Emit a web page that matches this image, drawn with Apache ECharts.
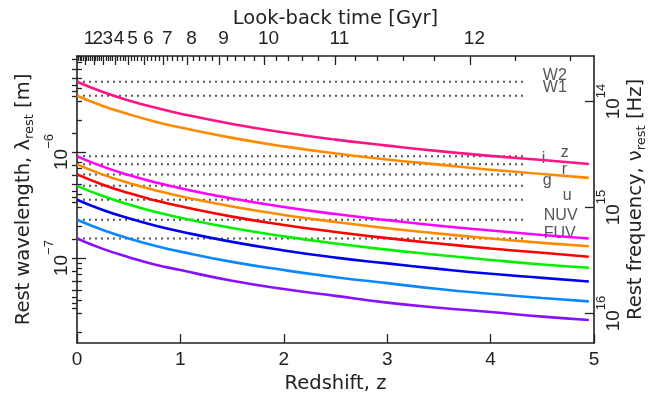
<!DOCTYPE html>
<html><head><meta charset="utf-8">
<script src="https://cdn.jsdelivr.net/npm/echarts@6/dist/echarts.min.js"></script>
<style>html,body{margin:0;padding:0;background:#fff}#c{width:661px;height:398px}</style>
</head><body><div id="c"></div>
<script>
// ---- data (wavelengths in micrometres) ----
const redshift = [0, 0.25, 0.5, 0.75, 1, 1.5, 2, 2.5, 3, 3.5, 4, 4.5, 4.95];
const bandNames = ['W2', 'W1', 'z', 'i', 'r', 'g', 'u', 'NUV', 'FUV'];
const bandWavelengthUm = [4.6, 3.4, 0.91, 0.765, 0.615, 0.48, 0.355, 0.23, 0.153];
const curveW2  = [4.60, 3.68, 3.07, 2.63, 2.30, 1.84, 1.53, 1.31, 1.15, 1.02, 0.92, 0.84, 0.77];
const curveW1  = [3.40, 2.72, 2.27, 1.94, 1.70, 1.36, 1.13, 0.97, 0.85, 0.76, 0.68, 0.62, 0.57];
const curveZ   = [0.910, 0.728, 0.607, 0.520, 0.455, 0.364, 0.303, 0.260, 0.228, 0.202, 0.182, 0.165, 0.153];
const curveI   = [0.765, 0.612, 0.510, 0.437, 0.383, 0.306, 0.255, 0.219, 0.191, 0.170, 0.153, 0.139, 0.129];
const curveR   = [0.615, 0.492, 0.410, 0.351, 0.308, 0.246, 0.205, 0.176, 0.154, 0.137, 0.123, 0.112, 0.103];
const curveG   = [0.480, 0.384, 0.320, 0.274, 0.240, 0.192, 0.160, 0.137, 0.120, 0.107, 0.096, 0.087, 0.081];
const curveU   = [0.355, 0.284, 0.237, 0.203, 0.178, 0.142, 0.118, 0.101, 0.089, 0.079, 0.071, 0.065, 0.060];
const curveNUV = [0.230, 0.184, 0.153, 0.131, 0.115, 0.092, 0.077, 0.066, 0.058, 0.051, 0.046, 0.042, 0.039];
const curveFUV = [0.153, 0.122, 0.102, 0.087, 0.077, 0.061, 0.051, 0.044, 0.038, 0.034, 0.031, 0.028, 0.026];
const bandLineEndZ = 4.35;
const xTickLabels = [0, 1, 2, 3, 4, 5];
const lookbackLabels = [1, 2, 3, 4, 5, 6, 7, 8, 9, 10, 11, 12];
const wavelengthMajor = [1e-7, 1e-6];
const frequencyMajor = [1e14, 1e15, 1e16];

// ---- styling ----
const curves = [curveW2, curveW1, curveZ, curveI, curveR, curveG, curveU, curveNUV, curveFUV];
const curveColors = ['#ff1485', '#ff8a00', '#ff00ff', '#ff8a00', '#ff0000', '#00f000', '#0000f0', '#0a88ff', '#8a10ff'];
const labelOffsets = [[16,-6],[16,-8],[34,-4],[15,-6],[35,-5],[16,-5],[36,-4],[17,-4],[17,-5]];
const TXT = '#222', AX = '#222';
const numFont = 'Liberation Sans', titleFont = 'DejaVu Sans';
const yMin = 1.58e-8, yMax = 8.05e-6;
const C = 2.998e8;

// ---- axis scale helpers ----
const H0 = 71, Om = 0.27, OL = 0.73;
function ageGyr(z) {
  const tH = 977.8 / H0;
  return 2 * tH / (3 * Math.sqrt(OL)) * Math.asinh(Math.sqrt(OL / Om) * Math.pow(1 + z, -1.5));
}
function lookback(z) { return ageGyr(0) - ageGyr(z); }
function zOfLookback(t) {
  let lo = 0, hi = 50;
  for (let k = 0; k < 80; k++) { const m = (lo + hi) / 2; if (lookback(m) < t) lo = m; else hi = m; }
  return (lo + hi) / 2;
}
const topMajorZ = lookbackLabels.map(zOfLookback);
const topOddZ = topMajorZ.filter((z, i) => i % 2 === 0);
const topEvenZ = topMajorZ.filter((z, i) => i % 2 === 1);
const topMinorZ = [];
for (let k = 1; k < 70; k++) {
  if (k % 5 === 0) continue;
  const z = zOfLookback(k * 0.2);
  if (z < 5) topMinorZ.push(z);
}
const leftMinor = [];
for (let n = -9; n <= -5; n++) for (let k = 2; k <= 9; k++) {
  const v = k * Math.pow(10, n); if (v > yMin && v < yMax) leftMinor.push(v);
}
const rightMajor = frequencyMajor.map(f => C / f);
const rightMinor = [];
for (let n = 12; n <= 16; n++) for (let k = 2; k <= 9; k++) {
  const v = C / (k * Math.pow(10, n)); if (v > yMin && v < yMax) rightMinor.push(v);
}
function lookbackLabelFor(v) {
  let best = 0;
  topMajorZ.forEach((z, i) => { if (Math.abs(z - v) < Math.abs(topMajorZ[best] - v)) best = i; });
  return String(lookbackLabels[best]);
}

const supRich = {
  b: {fontSize: 19, fontFamily: numFont, color: TXT, lineHeight: 28, verticalAlign: 'bottom'},
  s: {fontSize: 13, fontFamily: numFont, color: TXT, lineHeight: 12, verticalAlign: 'top'}
};
function powLabel(e) { return '{b|10}{s|' + (e < 0 ? '\u2212' + (-e) : String(e)) + '}'; }
const nameRich = {sub: {fontSize: 13, fontFamily: titleFont, color: TXT, lineHeight: 12, verticalAlign: 'bottom'}};
const nameStyle = {fontSize: 19.5, fontFamily: titleFont, color: TXT, lineHeight: 24, rich: nameRich};

const baseAxisLine = {show: true, onZero: false, lineStyle: {color: AX, width: 1.6}};
const tickStyle = {color: AX, width: 1.3};
const topLabelStyle = {fontSize: 19, fontFamily: numFont, color: TXT, margin: 8, padding: [0, 0, 0, 8],
  showMinLabel: true, showMaxLabel: true, formatter: lookbackLabelFor};

const chart = echarts.init(document.getElementById('c'), null, {renderer: 'canvas'});
const option = {
  animation: false,
  backgroundColor: '#fff',
  grid: {left: 77, right: 67, top: 56, bottom: 55, containLabel: false, outerBoundsMode: 'none'},
  xAxis: [
    {type: 'value', min: 0, max: 5, position: 'bottom',
     axisLine: baseAxisLine,
     axisTick: {inside: true, length: 9, lineStyle: tickStyle, customValues: xTickLabels},
     axisLabel: {customValues: xTickLabels, fontSize: 19, fontFamily: numFont, color: TXT, margin: 7},
     splitLine: {show: false},
     name: 'Redshift, z', nameLocation: 'middle', nameGap: 29, nameMoveOverlap: false, nameTextStyle: nameStyle},
    {type: 'value', min: 0, max: 5, position: 'top',
     axisLine: baseAxisLine,
     axisTick: {inside: true, length: 9, lineStyle: tickStyle, customValues: topMajorZ},
     axisLabel: Object.assign({customValues: topOddZ}, topLabelStyle),
     splitLine: {show: false},
     name: 'Look-back time [Gyr]', nameLocation: 'middle', nameGap: 25, nameMoveOverlap: false, nameTextStyle: nameStyle},
    {type: 'value', min: 0, max: 5, position: 'top',
     axisLine: {show: false},
     axisTick: {inside: true, length: 5, lineStyle: tickStyle, customValues: topMinorZ},
     axisLabel: Object.assign({customValues: topEvenZ}, topLabelStyle),
     splitLine: {show: false}}
  ],
  yAxis: [
    {type: 'log', min: yMin, max: yMax, position: 'left',
     axisLine: baseAxisLine,
     axisTick: {inside: true, length: 9, lineStyle: tickStyle, customValues: wavelengthMajor},
     axisLabel: {customValues: wavelengthMajor, rotate: 90, margin: 6,
       formatter: v => powLabel(Math.round(Math.log10(v))), rich: supRich},
     splitLine: {show: false}, minorTick: {show: false},
     name: 'Rest wavelength, \u03bb{sub|rest} [m]', nameLocation: 'middle', nameGap: 41, nameMoveOverlap: false, nameTextStyle: nameStyle},
    {type: 'log', min: yMin, max: yMax, position: 'left',
     axisLine: {show: false},
     axisTick: {inside: true, length: 5, lineStyle: tickStyle, customValues: leftMinor},
     axisLabel: {show: false}, splitLine: {show: false}},
    {type: 'log', min: yMin, max: yMax, position: 'right',
     axisLine: baseAxisLine,
     axisTick: {inside: true, length: 9, lineStyle: tickStyle, customValues: rightMajor},
     axisLabel: {customValues: rightMajor, rotate: 90, margin: 1,
       formatter: v => powLabel(Math.round(Math.log10(C / v))), rich: supRich},
     splitLine: {show: false},
     name: 'Rest frequency, \u03bd{sub|rest} [Hz]', nameLocation: 'middle', nameGap: 30, nameMoveOverlap: false, nameTextStyle: nameStyle},
    {type: 'log', min: yMin, max: yMax, position: 'right',
     axisLine: {show: false},
     axisTick: {inside: true, length: 5, lineStyle: tickStyle, customValues: rightMinor},
     axisLabel: {show: false}, splitLine: {show: false}}
  ],
  series: []
};

bandNames.forEach((n, i) => {
  const lam = bandWavelengthUm[i] * 1e-6;
  option.series.push({
    type: 'line', name: 'ref ' + n, xAxisIndex: 0, yAxisIndex: 0, silent: true,
    data: [[0, lam], [bandLineEndZ, lam]], showSymbol: false, symbol: 'none', z: 2,
    lineStyle: {color: '#555', width: 2, type: [2, 4]},
    endLabel: {show: true, formatter: () => n, distance: 0, offset: labelOffsets[i],
      color: '#555', fontSize: 16, fontFamily: numFont, align: 'left', verticalAlign: 'middle'}
  });
});
curves.forEach((vals, i) => {
  option.series.push({
    type: 'line', name: bandNames[i], xAxisIndex: 0, yAxisIndex: 0, silent: true,
    data: redshift.map((z, j) => [z, vals[j] * 1e-6]),
    smooth: 0.5, showSymbol: false, symbol: 'none', z: 3,
    lineStyle: {color: curveColors[i], width: 2.6}
  });
});
chart.setOption(option);
</script></body></html>
